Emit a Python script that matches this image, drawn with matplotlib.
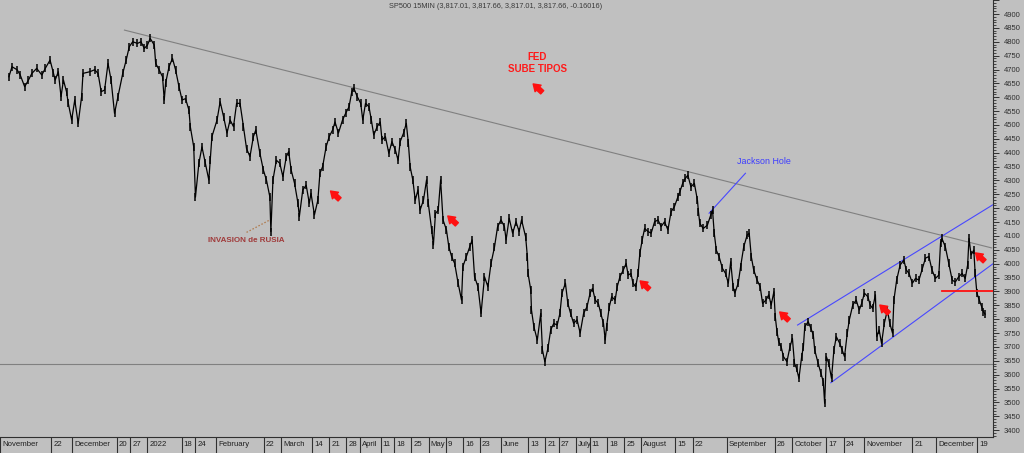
import numpy as np
import matplotlib
matplotlib.use("Agg")
import matplotlib.pyplot as plt

plt.rcParams['font.family'] = ['Liberation Sans', 'DejaVu Sans']

### calendar (trading days, counted from 2021-11-04)
START = '2021-11-04'
HOLIDAYS = ['2021-11-25', '2021-12-24', '2022-01-17', '2022-02-21', '2022-04-15',
            '2022-05-30', '2022-06-20', '2022-07-04', '2022-09-05', '2022-11-24']

### price path (trading day, price)
days_2021 = [-0.4, 0.5, 2.0, 2.9, 4.2, 5.3, 6.3, 7.7, 9.2, 10.2, 11.6, 12.6, 13.1, 14.0, 14.8,
             15.5, 16.4, 16.9, 17.9, 18.8, 19.8, 20.8, 21.2, 23.2, 24.6, 25.6, 26.5, 27.5, 28.5,
             29.4, 30.4, 31.4, 32.8, 33.8, 34.7, 35.7, 37.1, 38.1, 39.1]
price_2021 = [4674, 4710, 4699, 4680, 4638, 4662, 4686, 4704, 4680, 4704, 4734, 4686, 4662, 4692, 4602,
              4662, 4620, 4579, 4518, 4590, 4506, 4602, 4686, 4692, 4699, 4686, 4620, 4626, 4722,
              4662, 4542, 4602, 4686, 4734, 4782, 4800, 4794, 4800, 4776]

days_q1 = [40.0, 40.8, 42.0, 42.4, 43.4, 44.4, 44.9, 45.3, 46.3, 47.3, 48.2, 49.2, 50.1, 51.1,
           52.1, 52.5, 53.5, 54.0, 55.0, 55.9, 56.9, 57.9, 58.3, 58.8, 60.3, 61.2, 62.2, 63.2,
           64.1, 65.1, 66.0, 67.0, 68.0, 68.9, 69.9, 70.9, 71.6, 72.8, 73.8, 74.7, 75.7, 76.0,
           76.6, 77.6, 78.6, 79.5, 80.5, 81.2, 81.9, 82.9, 83.9, 84.3, 85.3, 86.3, 87.2, 87.7,
           88.7, 89.7, 90.3, 91.1, 92.1, 93.0, 94.0, 94.7, 95.7, 96.9, 97.8, 98.8, 99.6, 100.2]
price_q1 = [4788, 4812, 4788, 4722, 4699, 4674, 4590, 4651, 4710, 4740, 4699, 4638, 4590, 4595,
            4554, 4494, 4421, 4240, 4362, 4421, 4362, 4302, 4373, 4458, 4518, 4584, 4530, 4471,
            4518, 4494, 4578, 4578, 4494, 4415, 4386, 4458, 4482, 4398, 4338, 4302, 4241, 4116,
            4302, 4373, 4362, 4314, 4386, 4404, 4338, 4290, 4218, 4170, 4266, 4283, 4218, 4254,
            4176, 4229, 4326, 4350, 4421, 4458, 4482, 4511, 4471, 4518, 4542, 4566, 4620, 4632]

days_q2 = [101.2, 102.2, 102.8, 103.6, 104.6, 105.3, 106.0, 107.0, 107.9, 108.4, 109.4, 110.4,
           111.3, 112.3, 113.1, 113.7, 114.7, 115.5, 116.1, 116.6, 117.4, 118.1, 118.9, 119.5,
           120.5, 121.4, 121.9, 122.9, 123.4, 124.0, 124.8, 125.5, 126.2, 127.2, 127.9, 128.7,
           129.6, 130.6, 131.6, 132.0, 133.0, 134.0, 134.7, 135.4, 136.4, 137.3, 138.3, 139.3,
           140.2, 141.2, 142.1, 143.1, 144.1, 144.6, 145.5, 146.5, 147.5, 148.4, 149.1, 150.3,
           150.8, 151.0, 151.8, 152.0, 152.7, 153.7, 154.7, 155.2, 155.9, 156.8, 157.6, 158.5,
           159.5, 160.3, 160.9, 161.9, 162.6, 163.4]
price_q2 = [4602, 4578, 4518, 4578, 4566, 4518, 4464, 4494, 4511, 4446, 4458, 4398,
            4440, 4410, 4373, 4440, 4471, 4506, 4434, 4350, 4302, 4229, 4266, 4193,
            4229, 4302, 4218, 4122, 4068, 4181, 4193, 4302, 4158, 4122, 4061, 4026,
            4001, 3930, 3869, 3990, 4026, 4061, 4086, 3953, 3917, 3821, 3953, 3917,
            4001, 4059, 4132, 4158, 4134, 4086, 4164, 4110, 4151, 4116, 4158, 4097,
            4026, 3965, 3905, 3833, 3773, 3725, 3821, 3689, 3647, 3695, 3761, 3785,
            3779, 3821, 3894, 3930, 3857, 3821]

days_q3 = [164.3, 165.3, 166.2, 167.2, 168.2, 169.1, 169.8, 170.6, 171.5, 172.2, 173.0, 173.5,
           173.9, 174.7, 175.4, 176.4, 177.0, 177.8, 178.8, 179.6, 180.2, 181.0, 181.6, 182.4,
           183.1, 183.6, 184.3, 185.0, 186.0, 186.9, 187.9, 188.9, 189.8, 190.8, 191.8, 192.7,
           193.7, 194.7, 195.3, 196.1, 196.9, 197.6, 198.5, 199.5, 200.4, 200.7, 201.1, 202.1,
           203.3, 204.3, 204.8, 205.3, 205.9, 206.7, 207.7, 208.6, 209.4, 210.1, 210.8, 211.3,
           212.3, 213.0, 213.9, 214.9, 215.5, 216.1, 216.8, 217.8, 218.7, 219.4, 220.4, 221.2,
           221.9, 222.7, 223.1, 223.6, 224.1, 224.8, 225.5, 226.5, 227.4, 228.1, 228.7, 229.3,
           230.0]
price_q3 = [3785, 3798, 3750, 3821, 3845, 3894, 3911, 3869, 3857, 3821, 3785, 3725,
            3773, 3845, 3881, 3869, 3917, 3953, 3978, 4001, 3959, 3965, 3930, 3917,
            3965, 4037, 4086, 4127, 4116, 4110, 4151, 4158, 4134, 4151, 4122, 4187,
            4206, 4241, 4260, 4290, 4308, 4319, 4277, 4290, 4229, 4187, 4145, 4127,
            4139, 4176, 4193, 4110, 4049, 4026, 3983, 3965, 3930, 4007, 3917, 3894,
            3930, 3990, 4061, 4103, 4110, 4026, 3978, 3941, 3917, 3857, 3869, 3888,
            3851, 3899, 3809, 3755, 3719, 3701, 3665, 3647, 3701, 3731, 3641, 3623,
            3587]

days_q4 = [230.8, 231.3, 231.7, 232.7, 233.5, 234.2, 234.6, 235.6, 236.4, 237.1, 237.5, 238.0,
           238.7, 239.5, 240.2, 240.9, 241.9, 242.6, 243.3, 244.1, 244.7, 245.7, 246.7, 247.6,
           248.3, 249.1, 250.1, 250.8, 251.5, 252.3, 252.7, 253.4, 254.1, 254.9, 255.8, 256.5,
           257.3, 257.7, 258.5, 259.5, 260.6, 261.3, 262.1, 263.1, 264.0, 265.0, 266.0, 266.9,
           267.9, 268.8, 269.8, 270.8, 271.3, 271.7, 272.7, 273.7, 274.7, 275.6, 276.6, 277.6,
           278.5, 279.2, 279.6, 280.2, 281.0, 281.4, 281.9, 282.6, 283.3, 283.8, 284.3]
price_q4 = [3665, 3701, 3773, 3791, 3767, 3743, 3689, 3641, 3605, 3575, 3497, 3665,
            3641, 3587, 3689, 3737, 3713, 3689, 3665, 3750, 3798, 3851, 3869, 3833,
            3857, 3894, 3881, 3851, 3839, 3888, 3737, 3761, 3713, 3785, 3833, 3785,
            3750, 3869, 3941, 3995, 4013, 3978, 3965, 3930, 3947, 3941, 3983, 4020,
            4026, 3978, 3947, 3959, 4074, 4091, 4061, 4001, 3941, 3934, 3953, 3965,
            3947, 3995, 4091, 4032, 4049, 3965, 3894, 3869, 3845, 3827, 3818]

### drawn lines (day, price)
trend_days, trend_prices = [33.3, 286.2], [4842, 4057]
channel_up_days, channel_up_prices = [229.6, 286.5], [3779, 4212]
channel_lo_days, channel_lo_prices = [239.3, 286.5], [3571, 3999]
red_level_days, red_level = [271.7, 286.5], 3900
support_level = 3639
jackson_days, jackson_prices = [203.8, 214.4], [4182, 4326]
rusia_days, rusia_prices = [68.9, 75.7], [4113, 4158]

# red arrows (tip position)
arrow_days = [152.5, 93.4, 127.6, 183.7, 224.4, 253.6, 281.5]
arrow_prices = [4648, 4262, 4172, 3938, 3826, 3851, 4039]

# x axis labels
xtick_dates = ['2021-11-01', '2021-11-22', '2021-12-01', '2021-12-20', '2021-12-27', '2022-01-03',
               '2022-01-18', '2022-01-24', '2022-02-01', '2022-02-22', '2022-03-01', '2022-03-14',
               '2022-03-21', '2022-03-28', '2022-04-01', '2022-04-11', '2022-04-18', '2022-04-25',
               '2022-05-02', '2022-05-09', '2022-05-16', '2022-05-23', '2022-06-01', '2022-06-13',
               '2022-06-21', '2022-06-27', '2022-07-05', '2022-07-11', '2022-07-18', '2022-07-25',
               '2022-08-01', '2022-08-15', '2022-08-22', '2022-09-06', '2022-09-26', '2022-10-03',
               '2022-10-17', '2022-10-24', '2022-11-01', '2022-11-21', '2022-12-01', '2022-12-19']
xtick_labels = ['November', '22', 'December', '20', '27', '2022',
                '18', '24', 'February', '22', 'March', '14',
                '21', '28', 'April', '11', '18', '25',
                'May', '9', '16', '23', 'June', '13',
                '21', '27', 'July', '11', '18', '25',
                'August', '15', '22', 'September', '26', 'October',
                '17', '24', 'November', '21', 'December', '19']

BG = '#c0c0c0'

fig = plt.figure(figsize=(10.24, 4.53), dpi=100, facecolor=BG)
ax = fig.add_axes([0, 16 / 453, 993 / 1024, 437 / 453], facecolor=BG)

days = days_2021 + days_q1 + days_q2 + days_q3 + days_q4
prices = price_2021 + price_q1 + price_q2 + price_q3 + price_q4
# thin path plus bar ticks, like the 15 min bars
ax.plot(days, prices, color='black', lw=0.9, zorder=5)
ax.plot(days, prices, ls='none', color='black', marker='|', ms=5.5, mew=1.1, zorder=5)

#### lines
ax.plot(trend_days, trend_prices, color='#808080', lw=0.8)
ax.axhline(support_level, color='#808080', lw=0.8)
ax.plot(channel_up_days, channel_up_prices, color='#4848ff', lw=0.8)
ax.plot(channel_lo_days, channel_lo_prices, color='#4848ff', lw=0.8)
ax.plot(red_level_days, [red_level, red_level], color='#ff1010', lw=1.3, zorder=6)
ax.plot(jackson_days, jackson_prices, color='#4848ff', lw=0.8)
ax.plot(rusia_days, rusia_prices, color='#b07848', lw=0.9, ls=(0, (1.2, 1.5)))

#### texts
ax.text(153.7, 4724, 'FED\nSUBE TIPOS', color='#ff1a1a', fontsize=7, fontweight='bold',
        ha='center', va='center', linespacing=1.25)
ax.text(57.6, 4082, 'INVASION de RUSIA', color='#a03a3a', fontsize=5.8, fontweight='bold',
        ha='left', va='center')
ax.text(212.0, 4367, 'Jackson Hole', color='#3c3cff', fontsize=6.4, ha='left', va='center')

for d, p in zip(arrow_days, arrow_prices):
    ax.annotate('', xy=(d, p), xytext=(6.5, -6), textcoords='offset points',
                arrowprops=dict(arrowstyle='simple,head_length=0.6,head_width=0.8,tail_width=0.4',
                                fc='#ff1010', ec='#ff1010', mutation_scale=8,
                                shrinkA=0, shrinkB=0), zorder=7)

fig.text(496 / 1024, 1 - 7 / 453, 'SP500 15MIN (3,817.01, 3,817.66, 3,817.01, 3,817.66, -0.16016)',
         color='#3a3a3a', fontsize=5.3, ha='center', va='center')

#### axes setup
ax.set_xlim(-0.43, 286.6)
ax.set_ylim(3375.5, 4950.5)

tick_pos = np.busday_count(START, xtick_dates, holidays=HOLIDAYS)
ax.set_xticks(tick_pos)
ax.tick_params(axis='x', direction='out', length=11.5, width=0.8, color='#303030', labelbottom=False)
for pos, lab in zip(tick_pos, xtick_labels):
    ax.annotate(lab, xy=(pos, 0), xycoords=('data', 'axes fraction'), xytext=(1.5, -3),
                textcoords='offset points', ha='left', va='top', fontsize=5.6, color='#202020',
                annotation_clip=False)

ax.yaxis.tick_right()
ax.set_yticks(np.arange(3400, 4951, 50))
ax.set_yticklabels([str(v) if v <= 4900 else '' for v in range(3400, 4951, 50)])
ax.set_yticks(np.arange(3380, 4951, 10), minor=True)
ax.tick_params(axis='y', which='major', direction='out', length=4.5, width=0.7, color='#303030',
               labelsize=5.5, labelcolor='#303030', pad=3.5)
ax.tick_params(axis='y', which='minor', direction='out', length=2.2, width=0.6, color='#303030')

for side in ['left', 'top']:
    ax.spines[side].set_visible(False)
ax.spines['right'].set_color('#303030')
ax.spines['bottom'].set_color('#303030')
ax.spines['right'].set_linewidth(0.8)
ax.spines['bottom'].set_linewidth(0.8)

fig.savefig('out.png', dpi=100, facecolor=BG)
